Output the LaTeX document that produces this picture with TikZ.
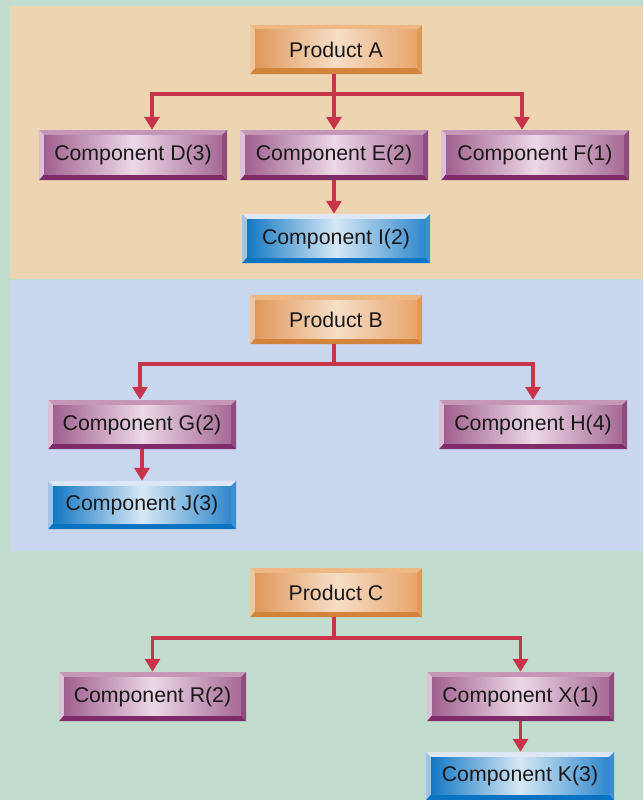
\documentclass[tikz,border=0pt]{standalone}
\usepackage{fontspec}
\setmainfont{Liberation Sans}
\usetikzlibrary{arrows.meta}
\definecolor{bggreen}{HTML}{C0DDCD}
\definecolor{bgtan}{HTML}{EED5B1}
\definecolor{bgblue}{HTML}{C8D6EE}
\definecolor{arrred}{HTML}{C8344A}
\definecolor{txt}{HTML}{1A1718}
% purple
\definecolor{purtop}{HTML}{C596B8}
\definecolor{purbot}{HTML}{7E2C69}
\definecolor{purlft}{HTML}{DCC0D6}
\definecolor{purrgt}{HTML}{8E4C7E}
\definecolor{purfl}{HTML}{A0608F}
\definecolor{purfm}{HTML}{ECD8E6}
\definecolor{purfr}{HTML}{A66A96}
% orange
\definecolor{orgtop}{HTML}{EDB884}
\definecolor{orgbot}{HTML}{D2843C}
\definecolor{orglft}{HTML}{F2C69A}
\definecolor{orgrgt}{HTML}{DD9A5A}
\definecolor{orgfl}{HTML}{E0985A}
\definecolor{orgfm}{HTML}{F6DEC8}
\definecolor{orgfr}{HTML}{E7A66C}
% blue
\definecolor{blutop}{HTML}{DDE7F5}
\definecolor{blubot}{HTML}{0A73C2}
\definecolor{blulft}{HTML}{A0C4E8}
\definecolor{blurgt}{HTML}{3D8ED0}
\definecolor{blufl}{HTML}{1478C4}
\definecolor{blufm}{HTML}{D6E8F5}
\definecolor{blufr}{HTML}{2F88CC}
\tikzset{
  boxtext/.style={rectangle, inner sep=0pt, text=txt, font=\fontsize{21.3}{25}\selectfont},
  link/.style={draw=arrred, line width=3.6pt},
  arr/.style={link, -{Triangle[width=15pt,length=13pt]}},
}
\newcommand\BevBox[7]{%
  \fill[#6top] (#2,#3) -- (#4,#3) -- (#4-5,#3+5) -- (#2+5,#3+5) -- cycle;
  \fill[#6bot] (#2,#5) -- (#4,#5) -- (#4-5,#5-6) -- (#2+5,#5-6) -- cycle;
  \fill[#6lft] (#2,#3) -- (#2+5,#3+5) -- (#2+5,#5-6) -- (#2,#5) -- cycle;
  \fill[#6rgt] (#4,#3) -- (#4-5,#3+5) -- (#4-5,#5-6) -- (#4,#5) -- cycle;
  \shade[left color=#6fl, right color=#6fr, middle color=#6fm] (#2+5,#3+5) rectangle (#4-5,#5-6);
  \node[boxtext, minimum width=#4-#2, minimum height=#5-#3] (#1) at ({(#2+#4)/2},{(#3+#5)/2}) {#7};%
}
\begin{document}
\begin{tikzpicture}[x=1pt,y=-1pt]
\useasboundingbox (0,0) rectangle (643,800);
% backgrounds
\fill[bggreen] (0,0) rectangle (643,800);
\fill[bgtan] (10,6) rectangle (643,279);
\fill[bgblue] (10,280) rectangle (643,551);

% Panel A
\BevBox{pa}{250}{25}{422}{74}{org}{Product A}
\BevBox{pd}{39}{130}{227}{180}{pur}{Component D(3)}
\BevBox{pe}{240}{130}{428}{180}{pur}{Component E(2)}
\BevBox{pf}{441}{130}{629}{180}{pur}{Component F(1)}
\BevBox{pi}{242}{214}{430}{263}{blu}{Component I(2)}
\coordinate (jA) at (334,94);
\draw[link] (jA |- pa.south) -- (jA);
\draw[arr] (jA) -| ([xshift=19pt]pd.north);
\draw[arr] (jA) -| ([xshift=-13pt]pf.north);
\draw[arr] (jA) -- (jA |- pe.north);
\draw[arr] (pe.south) -- (pe.south |- pi.north);

% Panel B
\BevBox{pb}{250}{295}{422}{344}{org}{Product B}
\BevBox{pg}{48}{400}{236}{449}{pur}{Component G(2)}
\BevBox{ph}{439}{400}{627}{449}{pur}{Component H(4)}
\BevBox{pj}{48}{481}{236}{529}{blu}{Component J(3)}
\coordinate (jB) at (334,364);
\draw[link] (jB |- pb.south) -- (jB);
\draw[arr] (jB) -| ([xshift=-2pt]pg.north);
\draw[arr] (jB) -| (ph.north);
\draw[arr] (pg.south) -- (pg.south |- pj.north);

% Panel C
\BevBox{pc}{250}{568}{422}{617}{org}{Product C}
\BevBox{pr}{59}{672}{246}{721}{pur}{Component R(2)}
\BevBox{px}{427}{672}{614}{721}{pur}{Component X(1)}
\BevBox{pk}{426}{752}{614}{800}{blu}{Component K(3)}
\coordinate (jC) at (334,638);
\draw[link] (jC |- pc.south) -- (jC);
\draw[arr] (jC) -| (pr.north);
\draw[arr] (jC) -| (px.north);
\draw[arr] (px.south) -- (px.south |- pk.north);
\end{tikzpicture}
\end{document}
